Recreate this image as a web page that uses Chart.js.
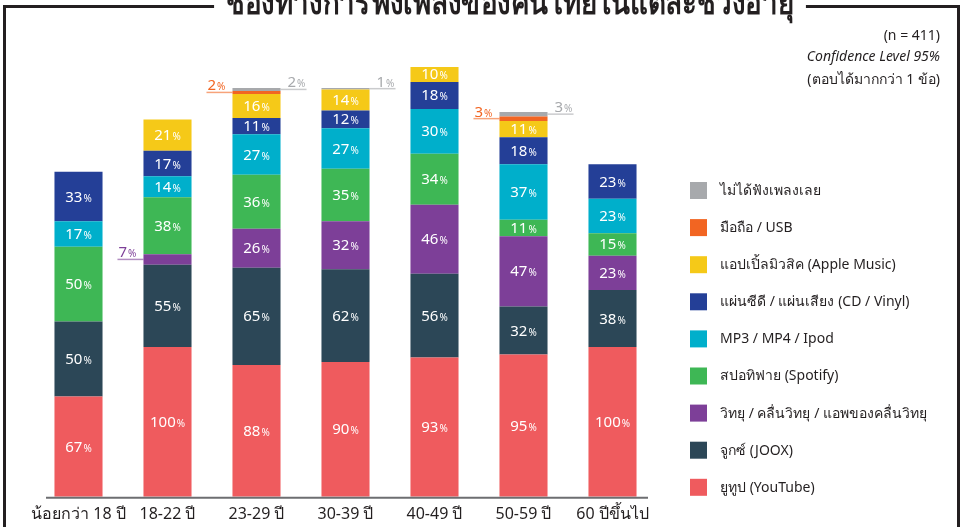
<!DOCTYPE html>
<html>
<head>
<meta charset="utf-8">
<script src="https://cdn.jsdelivr.net/npm/chart.js@4.4.1/dist/chart.umd.min.js"></script>
<style>
  body { margin: 0; background: #fff; }
  #wrap { width: 964px; height: 527px; position: relative; }
</style>
</head>
<body>
<div id="wrap"><canvas id="music-channel-chart-id"></canvas></div>
<script>
// ===================== DATA =====================
const ageGroups = ['น้อยกว่า 18 ปี', '18-22 ปี', '23-29 ปี', '30-39 ปี', '40-49 ปี', '50-59 ปี', '60 ปีขึ้นไป'];

// stacked bottom -> top
const youtube = [67, 100, 88, 90, 93, 95, 100];
const joox = [50, 55, 65, 62, 56, 32, 38];
const radio = [0, 7, 26, 32, 46, 47, 23];
const spotify = [50, 38, 36, 35, 34, 11, 15];
const mp3 = [17, 14, 27, 27, 30, 37, 23];
const cdVinyl = [33, 17, 11, 12, 18, 18, 23];
const appleMusic = [0, 21, 16, 14, 10, 11, 0];
const mobileUsb = [0, 0, 2, 0, 0, 3, 0];
const noListen = [0, 0, 2, 1, 0, 3, 0];

const titleText = 'ช่องทางการฟังเพลงของคนไทยในแต่ละช่วงอายุ';
const noteLines = ['(n = 411)', 'Confidence Level 95%', '(ตอบได้มากกว่า 1 ข้อ)'];

const FONT = '"Noto Sans", "DejaVu Sans", sans-serif';

// side: where small values get an outside label
const seriesList = [
  { label: 'ยูทูป (YouTube)', data: youtube, color: '#ef5b5e', side: 'left' },
  { label: 'จูกซ์ (JOOX)', data: joox, color: '#2c4757', side: 'left' },
  { label: 'วิทยุ / คลื่นวิทยุ / แอพของคลื่นวิทยุ', data: radio, color: '#7d3f98', side: 'left' },
  { label: 'สปอทิฟาย (Spotify)', data: spotify, color: '#3eb755', side: 'left' },
  { label: 'MP3 / MP4 / Ipod', data: mp3, color: '#00afcb', side: 'left' },
  { label: 'แผ่นซีดี / แผ่นเสียง (CD / Vinyl)', data: cdVinyl, color: '#243f97', side: 'left' },
  { label: 'แอปเปิ้ลมิวสิค (Apple Music)', data: appleMusic, color: '#f5c918', side: 'left' },
  { label: 'มือถือ / USB', data: mobileUsb, color: '#f26522', side: 'left' },
  { label: 'ไม่ได้ฟังเพลงเลย', data: noListen, color: '#a7a9ac', side: 'right' }
];

function drawPct(ctx, x, y, value, color, align) {
  const num = String(value);
  ctx.font = '15px ' + FONT;
  const w1 = ctx.measureText(num).width;
  ctx.font = '10px ' + FONT;
  const w2 = ctx.measureText('%').width;
  let start = x - (w1 + w2 + 1) / 2;
  if (align === 'left') start = x;
  if (align === 'right') start = x - (w1 + w2 + 1);
  ctx.fillStyle = color;
  ctx.textAlign = 'left';
  ctx.textBaseline = 'alphabetic';
  ctx.font = '15px ' + FONT;
  ctx.fillText(num, start, y + 5);
  ctx.font = '10px ' + FONT;
  ctx.fillText('%', start + w1 + 1, y + 5);
  return w1 + w2 + 1;
}

const extrasPlugin = {
  id: 'extras',
  afterDraw(chart) {
    const ctx = chart.ctx;
    const area = chart.chartArea;
    ctx.save();

    // axis line
    ctx.strokeStyle = '#6d6e71';
    ctx.lineWidth = 2;
    ctx.beginPath();
    ctx.moveTo(46, area.bottom + 1);
    ctx.lineTo(648, area.bottom + 1);
    ctx.stroke();

    // value labels
    chart.data.datasets.forEach((ds, di) => {
      const meta = chart.getDatasetMeta(di);
      meta.data.forEach((bar, i) => {
        const v = ds.data[i];
        if (!v) return;
        const top = Math.min(bar.y, bar.base);
        const h = Math.abs(bar.base - bar.y);
        const cy = top + h / 2;
        const left = bar.x - bar.width / 2;
        const right = bar.x + bar.width / 2;
        if (v >= 10) {
          drawPct(ctx, bar.x, cy, v, '#ffffff', 'center');
        } else {
          const side = seriesList[di].side;
          ctx.strokeStyle = ds.backgroundColor;
          ctx.globalAlpha = 0.6;
          ctx.lineWidth = 1.5;
          ctx.beginPath();
          if (side === 'left') {
            ctx.moveTo(left - 26, cy);
            ctx.lineTo(left, cy);
          } else {
            ctx.moveTo(right, cy);
            ctx.lineTo(right + 26, cy);
          }
          ctx.stroke();
          ctx.globalAlpha = 1;
          if (side === 'left') drawPct(ctx, left - 25, cy - 7, v, ds.backgroundColor, 'left');
          else drawPct(ctx, right + 7, cy - 7, v, ds.backgroundColor, 'left');
        }
      });
    });

    // frame + title (condensed heading, cut by the top edge)
    ctx.font = 'bold 33px ' + FONT;
    const squeeze = 0.84;
    const tw = ctx.measureText(titleText).width * squeeze;
    const tx = 510;
    ctx.save();
    ctx.translate(tx, 14);
    ctx.scale(squeeze, 1);
    ctx.fillStyle = '#231f20';
    ctx.textAlign = 'center';
    ctx.textBaseline = 'alphabetic';
    ctx.fillText(titleText, 0, 0);
    ctx.restore();
    ctx.strokeStyle = '#231f20';
    ctx.lineWidth = 3;
    ctx.beginPath();
    ctx.moveTo(4.5, 527);
    ctx.lineTo(4.5, 6.5);
    ctx.lineTo(tx - tw / 2 - 12, 6.5);
    ctx.moveTo(tx + tw / 2 + 12, 6.5);
    ctx.lineTo(958.5, 6.5);
    ctx.lineTo(958.5, 527);
    ctx.stroke();

    // notes
    ctx.fillStyle = '#231f20';
    ctx.textAlign = 'right';
    ctx.textBaseline = 'alphabetic';
    ctx.font = '14px ' + FONT;
    ctx.fillText(noteLines[0], 940, 40);
    ctx.font = 'italic 14px ' + FONT;
    ctx.fillText(noteLines[1], 940, 61);
    ctx.font = '14px ' + FONT;
    ctx.fillText(noteLines[2], 940, 84);

    // legend (top -> bottom, reverse of stacking)
    const rows = seriesList.slice().reverse();
    rows.forEach((s, k) => {
      const y = 190 + k * 37.1;
      ctx.fillStyle = s.color;
      ctx.fillRect(690, y - 8, 17, 17);
      ctx.fillStyle = '#231f20';
      ctx.textAlign = 'left';
      ctx.textBaseline = 'middle';
      ctx.font = '14px ' + FONT;
      ctx.fillText(s.label, 720, y + 1);
    });

    ctx.restore();
  }
};

const chartCtx = document.getElementById('music-channel-chart-id');
new Chart(chartCtx, {
  type: 'bar',
  data: {
    labels: ageGroups,
    datasets: seriesList.map(s => ({
      label: s.label,
      data: s.data,
      backgroundColor: s.color,
      borderWidth: 0,
      barPercentage: 0.54,
      categoryPercentage: 1
    }))
  },
  options: {
    responsive: true,
    maintainAspectRatio: false,
    animation: false,
    layout: { padding: { left: 34, right: 307, top: 40, bottom: 3 } },
    plugins: {
      legend: { display: false },
      title: { display: false },
      tooltip: { enabled: false }
    },
    scales: {
      x: {
        stacked: true,
        grid: { display: false },
        border: { display: false },
        ticks: {
          color: '#231f20',
          font: { family: FONT, size: 16 },
          padding: 0,
          maxRotation: 0,
          autoSkip: false
        }
      },
      y: {
        stacked: true,
        display: false,
        min: 0,
        max: 305
      }
    }
  },
  plugins: [extrasPlugin]
});
</script>
</body>
</html>
